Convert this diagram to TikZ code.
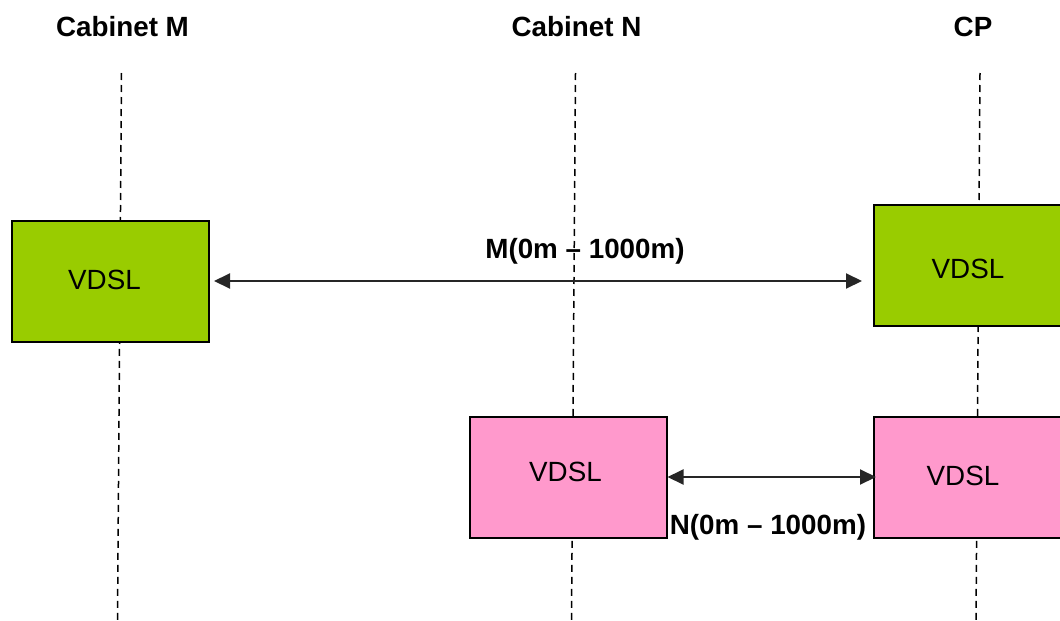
\documentclass[tikz,border=0pt]{standalone}
\usepackage{fontspec}
\setmainfont{Liberation Sans}
\usetikzlibrary{arrows.meta,calc}
\definecolor{vgreen}{HTML}{99CC00}
\definecolor{vpink}{HTML}{FF99CC}
\tikzset{
  title/.style={font=\fontsize{27.8}{32}\selectfont\bfseries, anchor=base, inner sep=0pt},
  dist/.style={font=\fontsize{27.8}{32}\selectfont\bfseries, anchor=base, inner sep=0pt},
  vtext/.style={font=\fontsize{27.8}{32}\selectfont, inner sep=0pt},
  vbox/.style={draw=black, line width=2pt, minimum width=197pt, minimum height=121pt, inner sep=0pt},
  life/.style={line width=1.5pt, dash pattern=on 7pt off 5pt},
  arr/.style={line width=2pt, draw=black!85, {Triangle[length=16pt,width=15pt]}-{Triangle[length=16pt,width=15pt]}}
}
\begin{document}
\begin{tikzpicture}[x=1pt,y=-1pt]
\useasboundingbox (0,0) rectangle (1060,621);
\clip (0,0) rectangle (1060,621);
% lifelines
\coordinate (mT) at (121.5,73);  \coordinate (mB) at (117.5,621);
\coordinate (nT) at (575.5,73);  \coordinate (nB) at (571.5,621);
\coordinate (cT) at (980,73);    \coordinate (cB) at (976,621);
\draw[life] (mT) -- (mB);
\draw[life] (nT) -- (nB);
\draw[life] (cT) -- (cB);
% titles
\node[title] (tM) at (122.5,36) {Cabinet M};
\node[title] (tN) at (576.5,36) {Cabinet N};
\node[title] (tC) at (973,36) {CP};
% boxes
\node[vbox, fill=vgreen] (bM) at (110.5,281) {};
\node[vbox, fill=vgreen] (bCg) at (972.5,265.5) {};
\node[vbox, fill=vpink] (bN) at (568,477) {};
\node[vbox, fill=vpink] (bCp) at (972.5,477) {};
\node[vtext] (lM) at (104.5,279.5) {VDSL};
\node[vtext] (lCg) at (968,268.5) {VDSL};
\node[vtext] (lN) at (565.5,472) {VDSL};
\node[vtext] (lCp) at (963,475.5) {VDSL};
% arrows
\draw[arr, shorten <=4pt, shorten >=11pt] (bM.east) -- (bM.east -| bCg.west);
\draw[arr, shorten >=-3pt] (bN.east) -- (bN.east -| bCp.west);
% labels
\node[dist] (dM) at (585,258.3) {M(0m – 1000m)};
\node[dist] (dN) at (768,534) {N(0m – 1000m)};
\end{tikzpicture}
\end{document}
